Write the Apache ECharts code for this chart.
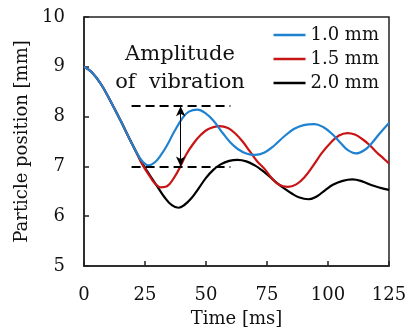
<!DOCTYPE html>
<html>
<head>
<meta charset="utf-8">
<script src="https://cdn.jsdelivr.net/npm/echarts@6/dist/echarts.min.js"></script>
<style>
  html, body { margin: 0; padding: 0; background: #fff; }
  #chart { width: 406px; height: 329px; }
</style>
</head>
<body>
<div id="chart"></div>
<script>
// values, [time ms, position mm]
const seriesNames = ["1.0 mm", "1.5 mm", "2.0 mm"];
const seriesColors = ["#1f82d0", "#c81414", "#000000"];

const pos10 = [
  [0, 9.0], [3, 8.9], [7, 8.65], [11, 8.3], [15, 7.92], [19, 7.52],
  [22, 7.24], [24, 7.1], [26.5, 7.02], [29, 7.08], [31, 7.19], [34, 7.42],
  [37, 7.7], [40.5, 7.98], [43, 8.1], [46.5, 8.14], [50, 8.06], [53, 7.92],
  [57, 7.66], [60, 7.48], [63, 7.35], [66.5, 7.26], [70, 7.23], [74, 7.28],
  [78, 7.42], [82, 7.6], [86, 7.75], [90, 7.83], [94.5, 7.85], [98, 7.79],
  [101.5, 7.66], [105, 7.48], [108, 7.33], [111.5, 7.26], [115, 7.33],
  [118, 7.47], [121, 7.65], [125, 7.87]
];

const pos15 = [
  [0, 9.0], [3, 8.9], [7, 8.65], [11, 8.3], [15, 7.92], [19, 7.52],
  [21.5, 7.28], [24, 7.03], [27, 6.8], [29, 6.66], [31.5, 6.58], [34, 6.6],
  [37, 6.78], [39.5, 7.0], [42, 7.25], [45, 7.47], [48, 7.64], [51, 7.75],
  [55.5, 7.81], [59, 7.77], [62, 7.66], [65, 7.5], [68, 7.3], [71, 7.1],
  [74, 6.95], [77, 6.76], [80, 6.63], [83.5, 6.59], [87, 6.64], [90.5, 6.79],
  [94, 7.02], [97.5, 7.27], [101, 7.47], [104.5, 7.62], [108, 7.67],
  [111, 7.64], [114, 7.55], [117, 7.43], [120, 7.28], [122.5, 7.17], [125, 7.06]
];

const pos20 = [
  [0, 9.0], [3, 8.9], [7, 8.65], [11, 8.3], [15, 7.92], [19, 7.52],
  [21.5, 7.28], [24, 7.05], [27, 6.82], [30, 6.6], [33, 6.38], [36, 6.22],
  [38.7, 6.17], [41, 6.22], [44, 6.36], [47, 6.56], [50, 6.77], [53, 6.93],
  [56, 7.04], [59.5, 7.11], [63, 7.13], [66.5, 7.1], [70, 7.02], [73, 6.92],
  [76, 6.8], [79, 6.67], [82, 6.56], [85, 6.46], [88, 6.38], [92, 6.34],
  [95.5, 6.4], [99, 6.53], [102, 6.63], [106, 6.71], [110, 6.74], [114, 6.7],
  [118, 6.62], [121.5, 6.57], [125, 6.53]
];

// amplitude annotation: dashed levels and the arrow between them
const ampLevels = [8.21, 7.0];
const ampSpan = [19.5, 60];
const arrowTime = 39.6;

const FONT = "DejaVu Serif";
const chart = echarts.init(document.getElementById("chart"), null, { renderer: "canvas" });

const lineSeries = [pos10, pos15, pos20].map((data, i) => ({
  name: seriesNames[i],
  type: "line",
  data: data,
  smooth: 0.4,
  showSymbol: false,
  symbol: "none",
  z: 3 - i,
  lineStyle: { color: seriesColors[i], width: 2.2 },
  itemStyle: { color: seriesColors[i] },
}));

const dashStyle = { color: "#000", width: 2, type: [9, 5] };

const annotation = {
  name: "annotation",
  type: "line",
  data: [],
  silent: true,
  markLine: {
    silent: true,
    animation: false,
    symbol: "none",
    label: { show: false },
    lineStyle: dashStyle,
    emphasis: { disabled: true },
    data: [
      ...ampLevels.map((lv) => [
        { coord: [ampSpan[0], lv] },
        { coord: [ampSpan[1], lv] },
      ]),
      [
        { coord: [arrowTime, ampLevels[1]], symbol: "arrow", symbolSize: [7, 10] },
        { coord: [arrowTime, ampLevels[0]], symbol: "arrow", symbolSize: [7, 10], lineStyle: { type: "solid", width: 1, color: "#000" } },
      ],
    ],
  },
};

const axisText = { color: "#111", fontFamily: FONT, fontSize: 18 };

const option = {
  animation: false,
  backgroundColor: "#fff",
  textStyle: { fontFamily: FONT },
  grid: {
    left: 84, right: 17, top: 17, bottom: 63,
    containLabel: false,
    outerBoundsMode: "none",
    show: true, borderColor: "#222", borderWidth: 1.5, backgroundColor: "transparent",
  },
  legend: {
    data: seriesNames,
    orient: "vertical",
    right: 22,
    top: 20,
    icon: "rect",
    itemWidth: 32,
    itemHeight: 2.5,
    itemGap: 4,
    selectedMode: false,
    textStyle: { color: "#111", fontFamily: FONT, fontSize: 18, lineHeight: 20 },
  },
  xAxis: {
    type: "value",
    min: 0, max: 125, interval: 25,
    name: "Time [ms]",
    nameLocation: "middle",
    nameGap: 44,
    nameTextStyle: axisText,
    axisLine: { lineStyle: { color: "#222", width: 1.5 } },
    axisTick: { inside: true, length: 5, lineStyle: { color: "#222", width: 1.5 } },
    axisLabel: { ...axisText, margin: 20 },
    splitLine: { show: false },
  },
  yAxis: {
    type: "value",
    min: 5, max: 10, interval: 1,
    name: "Particle position [mm]",
    nameLocation: "middle",
    nameGap: 46,
    nameTextStyle: axisText,
    axisLine: { show: true, lineStyle: { color: "#222", width: 1.5 } },
    axisTick: { show: true, inside: true, length: 5, lineStyle: { color: "#222", width: 1.5 } },
    axisLabel: { ...axisText, margin: 19 },
    splitLine: { show: false },
  },
  graphic: [
    {
      type: "text", x: 180, y: 55, silent: true,
      style: { text: "Amplitude", fill: "#111", font: "21px 'DejaVu Serif'", align: "center", verticalAlign: "middle" },
    },
    {
      type: "text", x: 180, y: 83, silent: true,
      style: { text: "of  vibration", fill: "#111", font: "21px 'DejaVu Serif'", align: "center", verticalAlign: "middle" },
    },
  ],
  series: [...lineSeries, annotation],
};

chart.setOption(option);
</script>
</body>
</html>
